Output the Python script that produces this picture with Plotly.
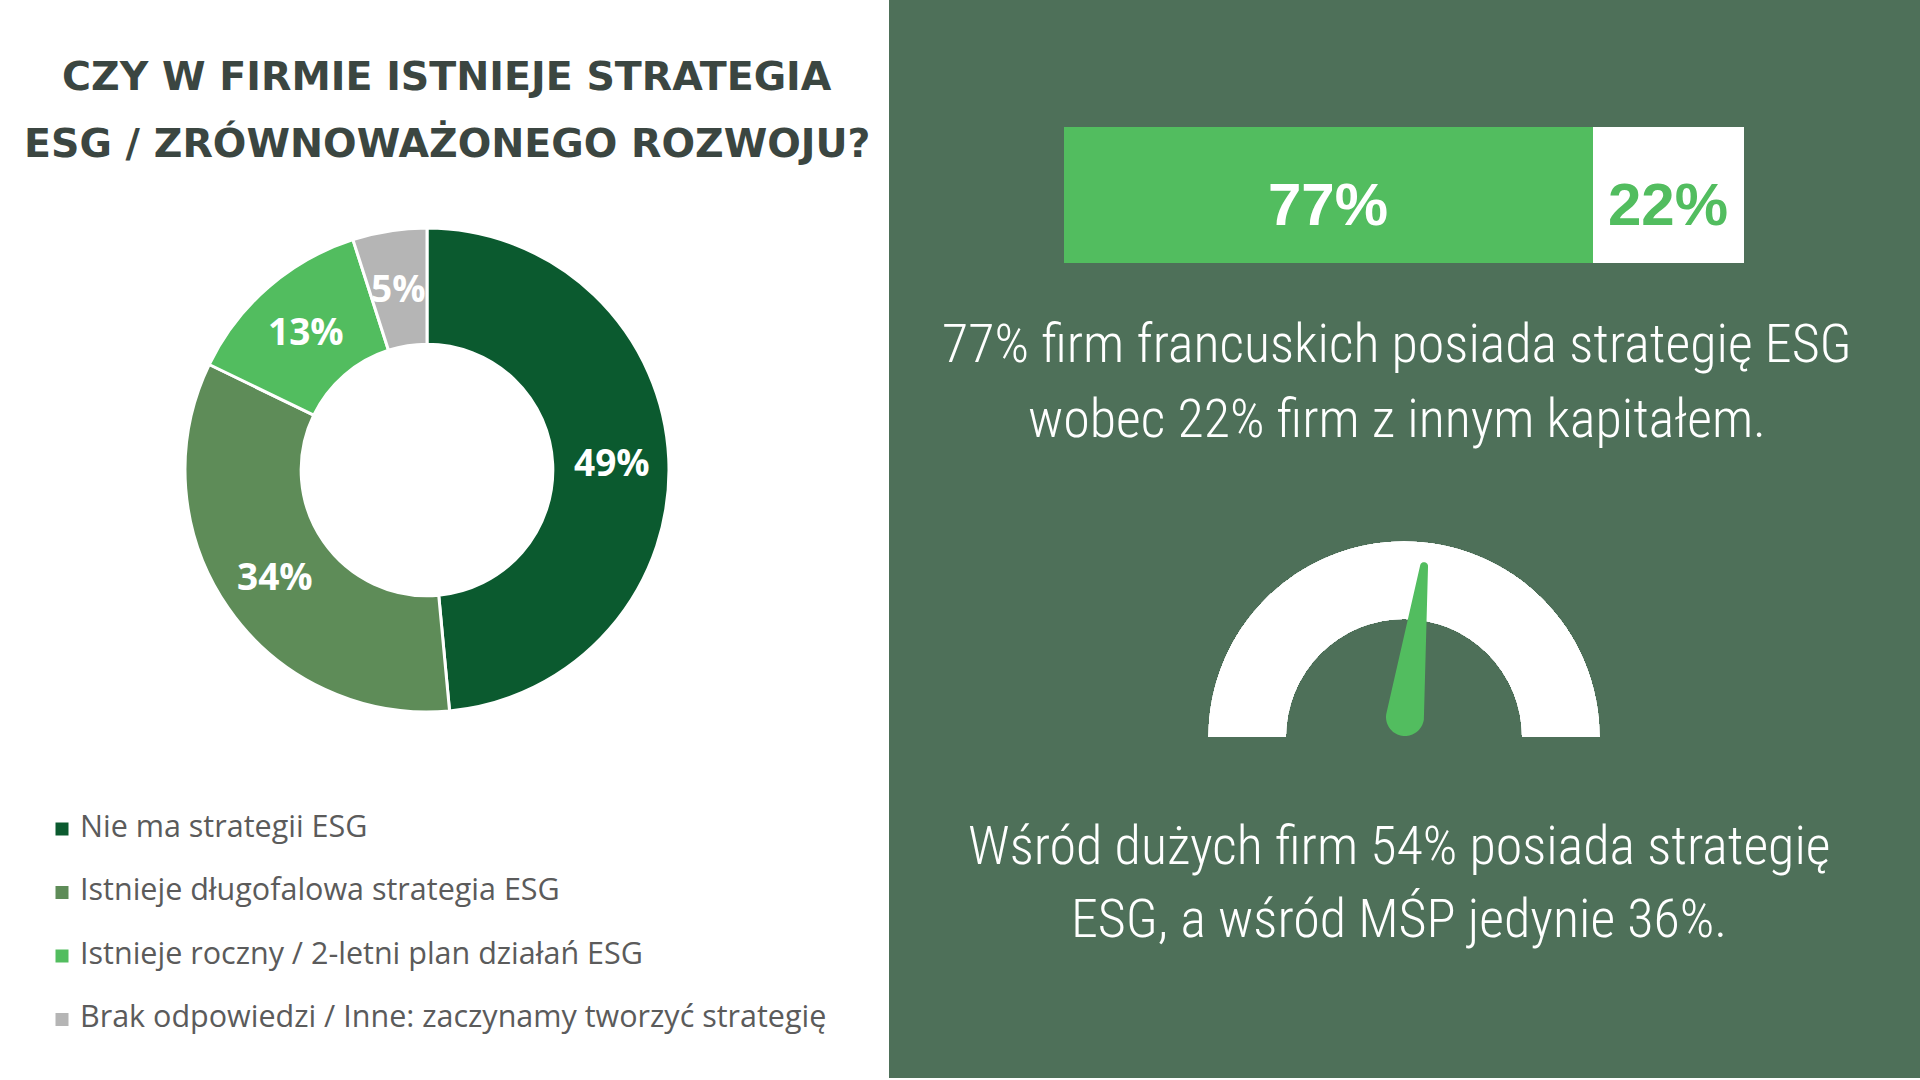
import numpy as np
import plotly.graph_objects as go

W, H = 1920, 1080

# ---------------- data ----------------
title_lines = ["CZY W FIRMIE ISTNIEJE STRATEGIA", "ESG / ZRÓWNOWAŻONEGO ROZWOJU?"]
donut_labels = [
    "Nie ma strategii ESG",
    "Istnieje długofalowa strategia ESG",
    "Istnieje roczny / 2-letni plan działań ESG",
    "Brak odpowiedzi / Inne: zaczynamy tworzyć strategię",
]
donut_values = [49, 34, 13, 5]
donut_colors = ["#0B5A2F", "#5E8C58", "#52BD5F", "#B5B5B5"]

bar_groups = ["Firmy francuskie", "Firmy z innym kapitałem"]
bar_values = [77, 22]

text_top = ["77% firm francuskich posiada strategię ESG", "wobec 22% firm z innym kapitałem."]
gauge_value = 54
text_bottom = ["Wśród dużych firm 54% posiada strategię", "ESG, a wśród MŚP jedynie 36%."]

# ---------------- helpers ----------------
def fx(px):
    return px / W

def fy(py):
    return 1 - py / H

PANEL_BG = "#4E7059"
GREEN = "#52BD5F"
TXT_FONT = "Liberation Sans Narrow, Roboto Condensed, DejaVu Sans Condensed, sans-serif"

fig = go.Figure()

# ---------------- donut ----------------
cx, cy, R = 427, 470, 242
fig.add_trace(go.Pie(
    values=donut_values, labels=donut_labels, hole=0.52, sort=False,
    direction="clockwise", rotation=0,
    marker=dict(colors=donut_colors, line=dict(color="white", width=3)),
    textinfo="none", hoverinfo="label+value", showlegend=False,
    domain=dict(x=[fx(cx - R), fx(cx + R)], y=[fy(cy + R), fy(cy - R)]),
))

annotations = []
total = float(sum(donut_values))
cum = 0.0
r_mid = 185
for v in donut_values:
    ang = np.deg2rad(360 * (cum + v / 2) / total)
    cum += v
    px = cx + r_mid * np.sin(ang)
    py = cy - r_mid * np.cos(ang)
    annotations.append(dict(
        x=fx(px), y=fy(py), xref="paper", yref="paper", showarrow=False,
        text=f"{v}%", font=dict(family="Open Sans", size=37, color="white", weight="bold"),
        xanchor="center", yanchor="middle",
    ))

# title
for i, line in enumerate(title_lines):
    annotations.append(dict(
        x=fx(447), y=fy(76 + i * 67), xref="paper", yref="paper", showarrow=False,
        text=line, font=dict(family="DejaVu Sans", size=39.5, color="#3B4641", weight="bold"),
        xanchor="center", yanchor="middle",
    ))

# ---------------- legend (scatter on hidden axes) ----------------
leg_idx = list(range(len(donut_labels)))
fig.add_trace(go.Scatter(
    x=[62] * len(donut_labels), y=leg_idx, mode="markers",
    marker=dict(symbol="square", size=13, color=donut_colors, line=dict(width=0)),
    xaxis="x3", yaxis="y3", showlegend=False, hoverinfo="skip",
))
fig.add_trace(go.Scatter(
    x=[80] * len(donut_labels), y=leg_idx, mode="text", text=donut_labels,
    textposition="middle right",
    textfont=dict(family="Open Sans", size=30.5, color="#5B5B5B"),
    xaxis="x3", yaxis="y3", showlegend=False, hoverinfo="skip",
))

# ---------------- stacked bar ----------------
bx0, bx1, by0, by1 = 1064, 1744, 127, 263
bar_text_colors = ["white", GREEN]
bar_fill = [GREEN, "white"]
cum_b = 0
for name, val, fill, tc in zip(bar_groups, bar_values, bar_fill, bar_text_colors):
    fig.add_trace(go.Bar(
        x=[val], y=["s"], orientation="h", name=name,
        marker=dict(color=fill, line=dict(width=0)),
        xaxis="x", yaxis="y", showlegend=False,
    ))
    annotations.append(dict(
        x=cum_b + val / 2, y="s", xref="x", yref="y", showarrow=False,
        text=f"{val}%", yshift=-9,
        font=dict(family="Liberation Sans", size=60, color=tc, weight="bold"),
        xanchor="center", yanchor="middle",
    ))
    cum_b += val

# ---------------- gauge ring (polar) ----------------
gx, gy, gR = 1404, 737, 196
fig.add_trace(go.Barpolar(
    r=[1], theta=[90], width=[180],
    marker=dict(color="white", line=dict(width=0)),
    subplot="polar", showlegend=False, hoverinfo="skip",
))

# ---------------- gauge needle (polar2, centred on pivot) ----------------
pvx, pvy, pR = 1405, 717, 180
phi = np.pi * (1 - gauge_value / 100.0)
L, rb, rt = 152.0, 19.0, 4.0
tip = L * np.array([np.cos(phi), np.sin(phi)])
t1 = np.linspace(phi + np.pi / 2, phi + 3 * np.pi / 2, 40)
t2 = np.linspace(phi - np.pi / 2, phi + np.pi / 2, 20)
nx = np.concatenate([rb * np.cos(t1), tip[0] + rt * np.cos(t2)])
ny = np.concatenate([rb * np.sin(t1), tip[1] + rt * np.sin(t2)])
nx = np.append(nx, nx[0])
ny = np.append(ny, ny[0])
fig.add_trace(go.Scatterpolar(
    r=np.hypot(nx, ny), theta=np.degrees(np.arctan2(ny, nx)),
    mode="lines", fill="toself", fillcolor=GREEN,
    line=dict(width=0, color=GREEN), subplot="polar2",
    showlegend=False, hoverinfo="skip",
))

# ---------------- right texts ----------------
for i, line in enumerate(text_top):
    annotations.append(dict(
        x=fx(1397), y=fy(343 + i * 75), xref="paper", yref="paper", showarrow=False,
        text=line, font=dict(family=TXT_FONT, size=54, color="white", weight=300),
        xanchor="center", yanchor="middle",
    ))
for i, line in enumerate(text_bottom):
    annotations.append(dict(
        x=fx(1399), y=fy(845 + i * 73), xref="paper", yref="paper", showarrow=False,
        text=line, font=dict(family=TXT_FONT, size=54, color="white", weight=300),
        xanchor="center", yanchor="middle",
    ))

hidden = dict(visible=False, showgrid=False, zeroline=False, fixedrange=True)

# legend axes ranges: rows at y=row0 + i*row_gap (px from top)
lg_top, lg_bot = 756, 1080
row0, row_gap = 829, 63.5

fig.update_layout(
    width=W, height=H, autosize=False,
    margin=dict(l=0, r=0, t=0, b=0, pad=0),
    paper_bgcolor="white", plot_bgcolor="rgba(0,0,0,0)",
    barmode="stack", bargap=0,
    showlegend=False,
    xaxis=dict(hidden, domain=[fx(bx0), fx(bx1)], range=[0, sum(bar_values)]),
    yaxis=dict(hidden, domain=[fy(by1), fy(by0)], range=[-0.5, 0.5]),
    xaxis3=dict(hidden, domain=[0, 0.45], range=[0, 0.45 * W]),
    yaxis3=dict(hidden, domain=[fy(lg_bot), fy(lg_top)],
                range=[(lg_bot - row0) / row_gap, (lg_top - row0) / row_gap]),
    polar=dict(
        domain=dict(x=[fx(gx - gR), fx(gx + gR)], y=[fy(gy), fy(gy - gR)]),
        sector=[0, 180], hole=0.6, bgcolor="rgba(0,0,0,0)",
        radialaxis=dict(visible=False, range=[0, 1], showgrid=False),
        angularaxis=dict(visible=False, showgrid=False),
    ),
    polar2=dict(
        domain=dict(x=[fx(pvx - pR), fx(pvx + pR)], y=[fy(pvy + pR), fy(pvy - pR)]),
        bgcolor="rgba(0,0,0,0)",
        radialaxis=dict(visible=False, range=[0, pR], showgrid=False),
        angularaxis=dict(visible=False, showgrid=False, rotation=0, direction="counterclockwise"),
    ),
    shapes=[dict(
        type="rect", xref="paper", yref="paper",
        x0=fx(889), x1=1, y0=fy(1078), y1=1,
        fillcolor=PANEL_BG, line=dict(width=0), layer="below",
    )],
    annotations=annotations,
)

fig.write_html("out.html")
